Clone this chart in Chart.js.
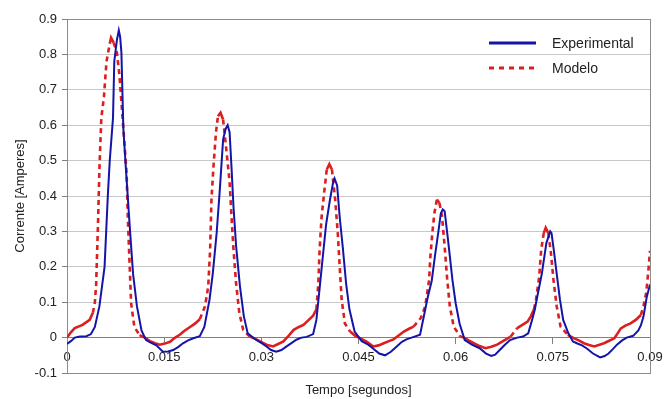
<!DOCTYPE html>
<html>
<head>
<meta charset="utf-8">
<script src="https://cdn.jsdelivr.net/npm/chart.js@4.4.1/dist/chart.umd.min.js"></script>
<style>
  html, body { margin: 0; padding: 0; background: #fff; }
  #wrap { width: 670px; height: 399px; }
</style>
</head>
<body>
<div id="wrap"><canvas id="myChart" width="670" height="399"></canvas></div>
<script>
'use strict'

// Experimental (blue) - time in s, current in A
var expTime = [
  0.0000, 0.0006, 0.0012, 0.0020, 0.0030, 0.0037, 0.0043, 0.0050, 0.0058, 0.0063,
  0.0066, 0.0071, 0.0073, 0.0077, 0.0080, 0.0082, 0.0084, 0.0087, 0.0091, 0.0097,
  0.0102, 0.0108, 0.0115, 0.0122, 0.0130, 0.0138, 0.0148, 0.0156, 0.0164, 0.0172,
  0.0179, 0.0187, 0.0195, 0.0205,
  0.0212, 0.0220, 0.0225, 0.0231, 0.0236, 0.0241, 0.0245, 0.0248, 0.0251, 0.0254,
  0.0257, 0.0261, 0.0267, 0.0273, 0.0279, 0.0290, 0.0300, 0.0308, 0.0315, 0.0323,
  0.0331, 0.0339, 0.0347, 0.0354, 0.0362, 0.0370, 0.0380,
  0.0385, 0.0390, 0.0395, 0.0400, 0.0406, 0.0411, 0.0413, 0.0417, 0.0421, 0.0426,
  0.0431, 0.0436, 0.0444, 0.0455, 0.0465, 0.0472, 0.0482, 0.0491, 0.0500, 0.0509,
  0.0517, 0.0524, 0.0532, 0.0545,
  0.0552, 0.0557, 0.0563, 0.0568, 0.0573, 0.0577, 0.0580, 0.0583, 0.0587, 0.0591,
  0.0595, 0.0600, 0.0606, 0.0614, 0.0625, 0.0637, 0.0647, 0.0655, 0.0661, 0.0668,
  0.0676, 0.0684, 0.0695, 0.0704, 0.0712,
  0.0718, 0.0722, 0.0725, 0.0733, 0.0740, 0.0746, 0.0748, 0.0752, 0.0756, 0.0761,
  0.0766, 0.0774, 0.0781, 0.0787, 0.0795, 0.0802, 0.0812, 0.0823, 0.0830, 0.0836,
  0.0843, 0.0849, 0.0857, 0.0864, 0.0874, 0.0882, 0.0886, 0.0890, 0.0895, 0.0900
];
var expCurrent = [
  -0.018, -0.010, 0.000, 0.003, 0.004, 0.010, 0.030, 0.088, 0.200, 0.400,
  0.500, 0.620, 0.780, 0.840, 0.868, 0.850, 0.805, 0.590, 0.475, 0.310,
  0.180, 0.088, 0.020, -0.007, -0.015, -0.022, -0.040, -0.039, -0.035, -0.026,
  -0.016, -0.008, -0.002, 0.004,
  0.030, 0.107, 0.180, 0.295, 0.420, 0.560, 0.590, 0.600, 0.580, 0.480,
  0.370, 0.260, 0.145, 0.060, 0.012, -0.004, -0.015, -0.025, -0.035, -0.040,
  -0.035, -0.025, -0.015, -0.006, 0.000, 0.002, 0.010,
  0.050, 0.140, 0.230, 0.320, 0.390, 0.440, 0.450, 0.430, 0.340, 0.250,
  0.150, 0.080, 0.017, -0.010, -0.020, -0.030, -0.045, -0.050, -0.040, -0.025,
  -0.012, -0.005, 0.000, 0.008,
  0.070, 0.115, 0.160, 0.230, 0.295, 0.350, 0.362, 0.357, 0.295, 0.230,
  0.163, 0.097, 0.040, -0.007, -0.020, -0.030, -0.045, -0.052, -0.048, -0.035,
  -0.020, -0.007, 0.000, 0.003, 0.012,
  0.050, 0.078, 0.107, 0.180, 0.267, 0.300, 0.295, 0.240, 0.180, 0.107,
  0.050, 0.012, -0.011, -0.016, -0.022, -0.030, -0.045, -0.056, -0.052, -0.045,
  -0.032, -0.020, -0.008, 0.000, 0.005, 0.020, 0.035, 0.060, 0.115, 0.150
];

// Modelo (red dotted)
var modTime = [
  0.0000, 0.0006, 0.0012, 0.0024, 0.0035, 0.0040, 0.0043, 0.0045, 0.0048, 0.0050,
  0.0053, 0.0057, 0.0061, 0.0066, 0.0068, 0.0072, 0.0077, 0.0081, 0.0086, 0.0092,
  0.0094, 0.0097, 0.0099, 0.0104, 0.0112, 0.0120, 0.0128, 0.0136, 0.0143, 0.0151,
  0.0159, 0.0167, 0.0174, 0.0182, 0.0190, 0.0198, 0.0205,
  0.0213, 0.0218, 0.0221, 0.0223, 0.0226, 0.0230, 0.0233, 0.0237, 0.0241, 0.0246,
  0.0251, 0.0254, 0.0257, 0.0261, 0.0266, 0.0272, 0.0282, 0.0290, 0.0298, 0.0308,
  0.0318, 0.0326, 0.0334, 0.0342, 0.0350, 0.0358, 0.0365, 0.0372, 0.0380,
  0.0385, 0.0388, 0.0390, 0.0393, 0.0397, 0.0401, 0.0405, 0.0409, 0.0414, 0.0418,
  0.0421, 0.0424, 0.0429, 0.0437, 0.0445, 0.0453, 0.0463, 0.0473, 0.0481, 0.0489,
  0.0497, 0.0504, 0.0512, 0.0520, 0.0528, 0.0535, 0.0546,
  0.0553, 0.0559, 0.0561, 0.0564, 0.0567, 0.0571, 0.0575, 0.0579, 0.0583, 0.0587,
  0.0591, 0.0597, 0.0607, 0.0613, 0.0620, 0.0628, 0.0637, 0.0646, 0.0655, 0.0664,
  0.0675, 0.0685, 0.0695, 0.0703, 0.0711, 0.0716,
  0.0721, 0.0724, 0.0729, 0.0732, 0.0736, 0.0739, 0.0743, 0.0747, 0.0751, 0.0756,
  0.0762, 0.0773, 0.0783, 0.0790, 0.0798, 0.0806, 0.0814, 0.0822, 0.0829, 0.0837,
  0.0845, 0.0850, 0.0855, 0.0862, 0.0870, 0.0878, 0.0886, 0.0890, 0.0894, 0.0896,
  0.0898, 0.0900
];
var modCurrent = [
  0.000, 0.015, 0.027, 0.036, 0.050, 0.070, 0.100, 0.150, 0.330, 0.475,
  0.620, 0.680, 0.780, 0.830, 0.847, 0.833, 0.805, 0.740, 0.616, 0.465,
  0.333, 0.190, 0.097, 0.030, 0.007, 0.000, -0.010, -0.016, -0.020, -0.017,
  -0.012, 0.000, 0.008, 0.020, 0.030, 0.040, 0.052,
  0.088, 0.144, 0.250, 0.390, 0.480, 0.580, 0.625, 0.635, 0.616, 0.530,
  0.440, 0.340, 0.250, 0.154, 0.070, 0.022, 0.003, -0.003, -0.011, -0.020,
  -0.025, -0.018, -0.011, 0.005, 0.022, 0.030, 0.036, 0.048, 0.062,
  0.080, 0.154, 0.250, 0.340, 0.410, 0.475, 0.490, 0.475, 0.390, 0.295,
  0.200, 0.107, 0.040, 0.017, 0.005, -0.002, -0.012, -0.025, -0.022, -0.016,
  -0.010, -0.005, 0.006, 0.017, 0.025, 0.031, 0.055,
  0.088, 0.163, 0.230, 0.295, 0.350, 0.390, 0.380, 0.342, 0.257, 0.163,
  0.088, 0.031, 0.003, 0.000, -0.008, -0.016, -0.024, -0.030, -0.026, -0.020,
  -0.008, 0.003, 0.027, 0.036, 0.045, 0.060,
  0.080, 0.107, 0.173, 0.248, 0.295, 0.310, 0.295, 0.240, 0.163, 0.088,
  0.031, 0.008, -0.002, -0.008, -0.016, -0.021, -0.025, -0.020, -0.016, -0.009,
  -0.002, 0.012, 0.026, 0.034, 0.040, 0.050, 0.064, 0.090, 0.125, 0.160,
  0.200, 0.245
];

var seriesNames = ["Experimental", "Modelo"];
var xTicks = [0, 0.015, 0.03, 0.045, 0.06, 0.075, 0.09];
var yTicks = [-0.1, 0, 0.1, 0.2, 0.3, 0.4, 0.5, 0.6, 0.7, 0.8, 0.9];

function pairs(xs, ys) {
  return xs.map(function(x, i) { return {x: x, y: ys[i]}; });
}

// dashes only show on long segments, short noisy bits look solid (like the original)
function dashLong(c) {
  var dx = c.p1.x - c.p0.x, dy = c.p1.y - c.p0.y;
  return Math.sqrt(dx * dx + dy * dy) > 9 ? [5, 4] : undefined;
}

Chart.defaults.font.family = "'Liberation Sans', Arial, sans-serif";
Chart.defaults.font.size = 13;
Chart.defaults.color = '#222';

// grey frame round the plot area
var plotBorder = {
  id: 'plotBorder',
  beforeDatasetsDraw: function(chart) {
    var a = chart.chartArea, c = chart.ctx;
    c.save();
    c.strokeStyle = '#8c8c8c';
    c.lineWidth = 1;
    c.strokeRect(Math.round(a.left) + 0.5, Math.round(a.top) + 0.5,
      Math.round(a.right - a.left), Math.round(a.bottom - a.top));
    c.restore();
  }
};

// legend drawn inside the plot, top right, no box
var insideLegend = {
  id: 'insideLegend',
  afterDraw: function(chart) {
    var c = chart.ctx;
    chart.data.datasets.forEach(function(ds, i) {
      var y = 43 + i * 25;
      c.save();
      c.strokeStyle = ds.borderColor;
      c.lineWidth = ds.legendWidth;
      c.setLineDash(ds.legendDash);
      c.beginPath();
      c.moveTo(489, y);
      c.lineTo(536, y);
      c.stroke();
      c.setLineDash([]);
      c.fillStyle = '#222';
      c.font = "14px 'Liberation Sans', Arial, sans-serif";
      c.textBaseline = 'middle';
      c.fillText(ds.label, 552, y + 1);
      c.restore();
    });
  }
};

var ctx = document.getElementById("myChart");

var linechart = new Chart(ctx, {
  type: 'line',
  data: {
    datasets: [{
      label: seriesNames[0],
      data: pairs(expTime, expCurrent),
      borderColor: '#1414a8',
      borderWidth: 2,
      legendWidth: 3,
      legendDash: [],
      pointRadius: 0,
      tension: 0,
      fill: false
    },
    {
      label: seriesNames[1],
      data: pairs(modTime, modCurrent),
      borderColor: '#dc1e1e',
      borderWidth: 2.6,
      borderDash: [],
      segment: { borderDash: dashLong },
      legendWidth: 3,
      legendDash: [5, 5],
      pointRadius: 0,
      tension: 0,
      fill: false
    }]
  },
  options: {
    responsive: false,
    animation: false,
    layout: { padding: { top: 19, right: 20, left: 0, bottom: 0 } },
    plugins: {
      legend: { display: false },
      tooltip: { enabled: false }
    },
    scales: {
      x: {
        type: 'linear',
        position: { y: 0 },
        min: 0,
        max: 0.09,
        afterBuildTicks: function(s) { s.ticks = xTicks.map(function(v) { return {value: v}; }); },
        ticks: { padding: 6, maxRotation: 0, autoSkip: false, callback: function(v) { return String(v); } },
        grid: { drawOnChartArea: false, tickLength: 6, color: '#808080' },
        border: { color: '#808080' }
      },
      xTitle: {
        type: 'linear',
        axis: 'x',
        position: 'bottom',
        min: 0,
        max: 0.09,
        ticks: { display: false },
        grid: { display: false, drawTicks: false },
        border: { display: false },
        title: { display: true, text: 'Tempo [segundos]', padding: { top: 0, bottom: 1 } },
        afterFit: function(s) { s.height = 26; }
      },
      y: {
        min: -0.1,
        max: 0.9,
        afterBuildTicks: function(s) { s.ticks = yTicks.map(function(v) { return {value: v}; }); },
        ticks: { padding: 5, callback: function(v) { return String(v); } },
        grid: { color: '#c8c8c8', tickColor: '#808080', tickLength: 5 },
        border: { color: '#808080' },
        title: { display: true, text: 'Corrente [Amperes]', padding: { top: 13, bottom: 0 } },
        afterFit: function(s) { s.width = 67; }
      }
    }
  },
  plugins: [plotBorder, insideLegend]
});
</script>
</body>
</html>
